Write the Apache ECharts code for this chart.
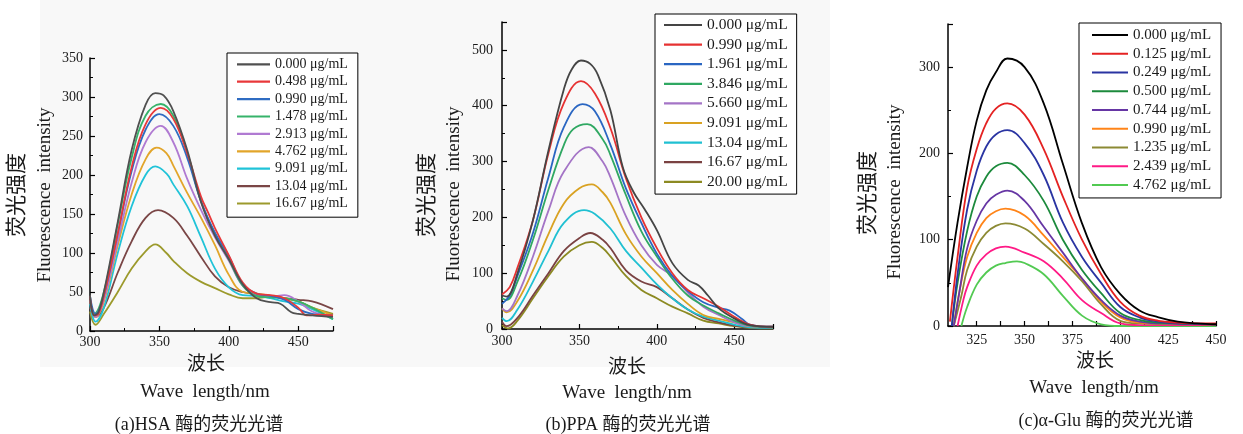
<!DOCTYPE html>
<html><head><meta charset="utf-8">
<script src="https://cdn.jsdelivr.net/npm/echarts@6/dist/echarts.min.js"></script>
<style>html,body{margin:0;padding:0;background:#fff}#c{width:1243px;height:434px}</style>
</head><body><div id="c"></div>
<script>
// ---------- Panel (a) HSA ----------
const A_NAMES = ['0.000 μg/mL','0.498 μg/mL','0.990 μg/mL','1.478 μg/mL','2.913 μg/mL','4.762 μg/mL','9.091 μg/mL','13.04 μg/mL','16.67 μg/mL'];
const A_COLORS = ['#505050','#e8383a','#2f6cc2','#36b36a','#b07ad2','#e2a52a','#20c3d8','#7a4646','#9c9a2c'];
const a0 = [[300,45],[303,20],[306,24],[310,50],[320,140],[330,232],[340,290],[347,305],[353,302],[360,282],[370,232],[380,165],[390,122],[400,92],[410,60],[420,42],[430,37],[437,35],[445,24],[450,22],[460,20],[475,18]];
const a1 = [[300,45],[303,20],[306,22],[310,45],[320,125],[330,210],[340,265],[351,286],[360,272],[370,228],[380,172],[385,152],[390,132],[400,97],[410,62],[420,48],[430,46],[440,42],[450,30],[456,20],[465,21],[475,20]];
const a2 = [[300,45],[304,22],[310,46],[320,125],[330,205],[340,258],[350,278],[360,263],[370,222],[380,166],[390,126],[400,96],[410,60],[420,48],[430,45],[440,40],[450,28],[460,22],[475,20]];
const a3 = [[300,45],[303,22],[310,50],[320,137],[330,222],[340,276],[351,291],[360,276],[370,228],[380,166],[390,124],[400,92],[410,58],[420,45],[430,43],[440,42],[450,38],[460,30],[475,15]];
const a4 = [[300,40],[304,18],[310,40],[320,115],[330,190],[340,242],[351,263],[360,242],[370,195],[380,155],[390,120],[400,90],[410,58],[420,46],[430,44],[440,46],[450,38],[460,25],[475,18]];
const a5 = [[300,40],[304,18],[310,38],[320,110],[330,175],[340,220],[348,235],[355,228],[360,212],[370,177],[380,145],[390,110],[400,72],[410,50],[420,48],[430,45],[440,42],[450,38],[460,30],[475,20]];
const a6 = [[300,35],[304,12],[310,30],[320,100],[330,160],[340,200],[347,211],[355,202],[360,188],[370,160],[380,120],[390,80],[400,56],[410,46],[420,45],[430,42],[440,38],[450,35],[460,28],[475,15]];
const a7 = [[300,30],[304,18],[310,30],[320,75],[330,115],[340,145],[349,155],[360,145],[370,122],[380,95],[390,70],[400,56],[410,50],[420,47],[430,45],[440,42],[450,40],[460,38],[475,28]];
const a8 = [[300,25],[304,8],[310,22],[320,50],[330,80],[340,102],[347,111],[355,100],[360,90],[370,74],[380,63],[390,55],[400,47],[410,42],[420,42],[430,44],[440,42],[450,38],[460,30],[475,22]];
const A_DATA = [a0,a1,a2,a3,a4,a5,a6,a7,a8];

// ---------- Panel (b) PPA ----------
const B_NAMES = ['0.000 μg/mL','0.990 μg/mL','1.961 μg/mL','3.846 μg/mL','5.660 μg/mL','9.091 μg/mL','13.04 μg/mL','16.67 μg/mL','20.00 μg/mL'];
const B_COLORS = ['#454545','#e63232','#2a66c2','#2fa862','#a474c6','#d9a222','#20c0d2','#7a4242','#8c8a22'];
const b0 = [[300,60],[303,58],[310,100],[320,195],[330,320],[340,430],[345,465],[351,481],[357,475],[362,455],[370,392],[378,290],[385,245],[392,215],[400,177],[410,118],[420,88],[427,78],[433,60],[440,37],[450,19],[460,7],[475,4]];
const b1 = [[300,62],[305,75],[310,110],[320,195],[330,315],[340,405],[351,444],[360,422],[370,360],[380,270],[390,200],[400,145],[410,100],[420,70],[430,55],[440,40],[450,22],[460,8],[475,4]];
const b2 = [[300,45],[305,60],[310,95],[320,172],[330,272],[340,362],[352,403],[360,390],[370,330],[380,252],[390,190],[400,135],[410,95],[420,68],[430,48],[440,38],[447,33],[455,18],[460,8],[475,4]];
const b3 = [[300,55],[303,52],[310,85],[320,160],[330,250],[340,330],[346,358],[355,367],[365,340],[370,312],[380,240],[390,175],[400,130],[410,90],[420,60],[430,42],[440,28],[450,15],[460,6],[475,3]];
const b4 = [[300,37],[303,32],[310,60],[320,130],[330,212],[340,282],[356,326],[365,300],[370,272],[380,202],[390,150],[400,115],[410,95],[420,65],[430,40],[440,25],[450,12],[460,5],[475,3]];
const b5 = [[300,37],[303,30],[310,50],[320,105],[330,170],[340,225],[350,252],[358,259],[365,245],[370,226],[380,170],[390,130],[400,100],[410,70],[420,45],[430,25],[440,18],[450,12],[460,5],[475,3]];
const b6 = [[300,20],[303,14],[310,35],[320,85],[330,140],[340,190],[353,213],[360,206],[370,180],[380,140],[390,110],[400,80],[410,55],[420,35],[430,22],[440,15],[450,8],[460,3],[475,2]];
const b7 = [[300,13],[303,5],[310,20],[320,60],[330,100],[340,140],[350,163],[357,172],[365,160],[370,145],[380,105],[390,85],[400,75],[410,55],[420,35],[430,20],[440,12],[450,6],[460,3],[475,2]];
const b8 = [[300,7],[304,1],[310,15],[320,55],[330,95],[340,130],[350,150],[358,156],[365,145],[370,130],[380,95],[390,70],[400,55],[410,40],[420,28],[430,15],[440,10],[450,5],[460,2],[475,1]];
const B_DATA = [b0,b1,b2,b3,b4,b5,b6,b7,b8];

// ---------- Panel (c) α-Glu ----------
const C_NAMES = ['0.000 μg/mL','0.125 μg/mL','0.249 μg/mL','0.500 μg/mL','0.744 μg/mL','0.990 μg/mL','1.235 μg/mL','2.439 μg/mL','4.762 μg/mL'];
const C_COLORS = ['#000000','#e42222','#2a34a2','#1c8a3c','#6636a4','#ff8418','#8c8a34','#ff1a86','#52ca52'];
const c0 = [[310,45],[315,120],[320,184],[325,238],[330,273],[335,294],[341,310],[350,300],[360,258],[370,188],[380,119],[390,68],[400,37],[410,18],[420,10],[430,5],[440,3],[450,2]];
const c1 = [[311,5],[315,80],[320,160],[325,205],[330,235],[335,252],[341,258],[350,245],[360,205],[370,150],[380,100],[390,60],[400,28],[410,12],[420,6],[430,4],[440,3],[450,3]];
const c2 = [[312,0],[315,60],[320,135],[325,180],[330,208],[335,222],[341,227],[350,212],[360,175],[370,120],[380,80],[390,50],[400,22],[410,10],[420,5],[430,3],[450,2]];
const c3 = [[312,0],[315,50],[320,110],[325,150],[330,173],[335,185],[341,189],[350,175],[360,145],[370,100],[380,65],[390,38],[400,15],[410,7],[420,4],[450,2]];
const c4 = [[313,0],[316,40],[320,90],[325,122],[330,142],[335,152],[341,157],[350,145],[360,115],[370,85],[380,55],[390,30],[400,12],[410,5],[420,3],[450,2]];
const c5 = [[313,0],[316,40],[320,80],[325,108],[330,125],[335,133],[340,136],[350,128],[360,105],[370,80],[380,55],[390,28],[400,10],[410,4],[420,3],[450,2]];
const c6 = [[313,0],[317,35],[320,65],[325,92],[330,108],[335,116],[340,119],[350,113],[360,95],[370,75],[380,52],[390,25],[400,6],[410,3],[450,2]];
const c7 = [[315,0],[318,30],[320,45],[325,70],[330,83],[335,90],[340,92],[350,85],[360,75],[370,55],[380,30],[390,15],[400,3],[410,1],[450,1]];
const c8 = [[317,0],[320,22],[325,48],[330,62],[335,70],[340,73],[346,75],[350,73],[360,60],[370,35],[380,12],[390,2],[400,0],[450,0]];
const C_DATA = [c0,c1,c2,c3,c4,c5,c6,c7,c8];

// tick labels
const AB_XLABELS = [300,350,400,450];
const C_XLABELS = [325,350,375,400,425,450];
const C_XTICKS = [325,337.5,350,362.5,375,387.5,400,412.5,425,437.5,450];

const SERIF = '"Liberation Serif","DejaVu Serif",serif';
const CJK = '"Noto Sans CJK SC","Liberation Serif",serif';
const MIXED = '"Liberation Serif","Noto Sans CJK SC",serif';
const TXT = '#1a1a1a';

const grids = [
  {left:90, top:58, width:243, height:273},
  {left:502, top:22, width:271, height:307},
  {left:948, top:24, width:268, height:302}
];

function xAxis(gi, min, max, labels, ticks, margin){
  const o = {
    type:'value', gridIndex:gi, min:min, max:max,
    axisLine:{show:true, lineStyle:{color:'#000', width:1.5}},
    axisTick:{show:true, inside:true, length:5, lineStyle:{color:'#000', width:1.2}},
    splitLine:{show:false},
    axisLabel:{color:TXT, fontFamily:SERIF, fontSize:14, margin:margin, customValues:labels}
  };
  if (ticks) { o.axisTick.customValues = ticks; }
  else { o.interval = 50; o.minorTick = {show:true, splitNumber:2, length:3, lineStyle:{color:'#000', width:1}}; }
  return o;
}
function yAxis(gi, max, interval, margin){
  return {
    type:'value', gridIndex:gi, min:0, max:max, interval:interval,
    axisLine:{show:true, lineStyle:{color:'#000', width:1.5}},
    axisTick:{show:true, inside:true, length:5, lineStyle:{color:'#000', width:1.2}},
    minorTick:{show:true, splitNumber:2, length:3, lineStyle:{color:'#000', width:1}},
    splitLine:{show:false},
    axisLabel:{color:TXT, fontFamily:SERIF, fontSize:14, margin:margin,
      formatter: v => (v % interval === 0 ? String(v) : '')}
  };
}

// series names carry a panel suffix so legends of different panels do not share names
const series = [];
function addSeries(names, colors, datas, gi, tag){
  names.forEach((n,i)=>{
    series.push({
      name:n + '#' + tag, type:'line', xAxisIndex:gi, yAxisIndex:gi, data:datas[i],
      showSymbol:false, smooth:0.4,
      lineStyle:{color:colors[i], width:1.8}, itemStyle:{color:colors[i]},
      z: 10 - i
    });
  });
}
addSeries(A_NAMES, A_COLORS, A_DATA, 0, 'a');
addSeries(B_NAMES, B_COLORS, B_DATA, 1, 'b');
addSeries(C_NAMES, C_COLORS, C_DATA, 2, 'c');

function legend(names, tag, left, top, itemW, lh, fs, pad){
  return {
    data:names.map(n => n + '#' + tag), orient:'vertical', left:left, top:top, icon:'rect',
    itemWidth:itemW, itemHeight:2.2, itemGap:0,
    backgroundColor:'#fff', borderColor:'#000', borderWidth:1, borderRadius:0,
    padding:pad, selectedMode:false,
    formatter: name => name.split('#')[0],
    textStyle:{color:TXT, fontFamily:SERIF, fontSize:fs, lineHeight:lh, height:lh}
  };
}

function vText(x, y, text, font, size){
  return {type:'text', x:x, y:y, rotation:Math.PI/2,
    style:{text:text, fill:TXT, font: size+'px '+font, align:'center', verticalAlign:'middle'}};
}
function hText(x, y, text, font, size){
  return {type:'text', x:x, y:y,
    style:{text:text, fill:TXT, font: size+'px '+font, align:'center', verticalAlign:'middle'}};
}

const option = {
  animation:false,
  backgroundColor:'#fff',
  grid: grids,
  xAxis:[
    xAxis(0, 300, 475, AB_XLABELS, null, 4),
    xAxis(1, 300, 475, AB_XLABELS, null, 5),
    xAxis(2, 310, 450, C_XLABELS, C_XTICKS, 7)
  ],
  yAxis:[ yAxis(0, 350, 50, 7), yAxis(1, 550, 100, 9), yAxis(2, 350, 100, 8) ],
  legend:[
    legend(A_NAMES, 'a', 227, 53, 33, 17.4, 14, [2.6, 10, 5, 10]),
    legend(B_NAMES, 'b', 655, 14, 38, 19.6, 15.5, [1.2, 9, 2.5, 9]),
    legend(C_NAMES, 'c', 1079, 23, 36, 18.75, 15, [2.6, 10, 3.6, 13])
  ],
  series: series,
  graphic:[
    {type:'rect', z:-10, silent:true, shape:{x:40, y:0, width:790, height:367}, style:{fill:'#f8f8f8'}},
    vText(15, 195, '荧光强度', CJK, 21),
    vText(45, 195, 'Fluorescence  intensity', SERIF, 19),
    vText(425, 195, '荧光强度', CJK, 21),
    vText(454, 194, 'Fluorescence  intensity', SERIF, 19),
    vText(866, 193, '荧光强度', CJK, 21),
    vText(895, 192, 'Fluorescence  intensity', SERIF, 19),
    hText(206, 363, '波长', CJK, 19),
    hText(205, 392, 'Wave  length/nm', SERIF, 19),
    hText(199, 425, '(a)HSA 酶的荧光光谱', MIXED, 18),
    hText(627, 366, '波长', CJK, 19),
    hText(627, 393, 'Wave  length/nm', SERIF, 19),
    hText(628, 425, '(b)PPA 酶的荧光光谱', MIXED, 18),
    hText(1095, 360, '波长', CJK, 19),
    hText(1094, 388, 'Wave  length/nm', SERIF, 19),
    hText(1106, 421, '(c)α-Glu 酶的荧光光谱', MIXED, 18)
  ]
};
const chart = echarts.init(document.getElementById('c'), null, {renderer:'canvas'});
chart.setOption(option);
</script></body></html>
